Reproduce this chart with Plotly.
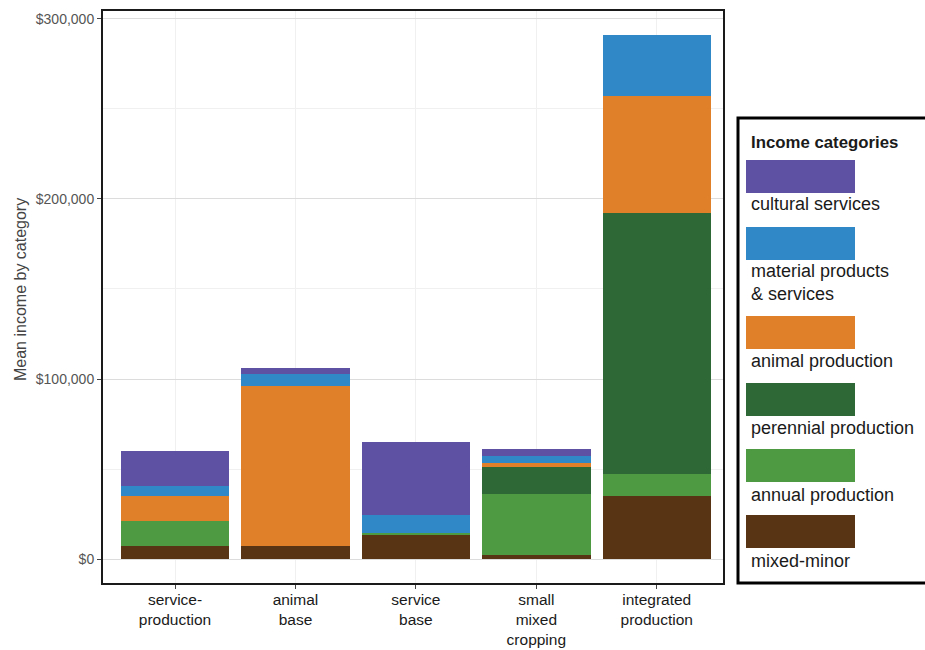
import plotly.graph_objects as go

groups = ["service-<br>production", "animal<br>base", "service<br>base",
          "small<br>mixed<br>cropping", "integrated<br>production"]

series_names = ["mixed-minor", "annual production", "perennial production",
                "animal production", "material products & services", "cultural services"]
mixed_minor = [7000, 7000, 13900, 2400, 34800]
annual = [13900, 0, 500, 33700, 12400]
perennial = [0, 0, 0, 15000, 145000]
animal = [14300, 89300, 0, 2200, 65200]
material = [5200, 6500, 9800, 4200, 33500]
cultural = [19800, 3300, 40900, 3900, 0]

y_ticks = [0, 100000, 200000, 300000]
y_tick_labels = ["$0", "$100,000", "$200,000", "$300,000"]

colors = {
    "mixed-minor": "#583415",
    "annual production": "#4E9A43",
    "perennial production": "#2E6837",
    "animal production": "#E08129",
    "material products & services": "#3089C6",
    "cultural services": "#5E51A3",
}
values = [mixed_minor, annual, perennial, animal, material, cultural]

W, H = 925, 650
Lt, Rt, Tt, Bt = 103, 723, 11, 583  # plot frame in pixels

fig = go.Figure()
xs = list(range(len(groups)))
for name, vals in zip(series_names, values):
    fig.add_trace(go.Bar(x=xs, y=vals, name=name, marker_color=colors[name],
                         marker_line_width=0, width=0.9, showlegend=False))

fig.update_layout(
    barmode="stack",
    width=W, height=H,
    margin=dict(l=Lt, r=W - Rt, t=Tt, b=H - Bt, pad=0, autoexpand=False),
    paper_bgcolor="white", plot_bgcolor="white",
    font=dict(family="Liberation Sans, Arial, sans-serif", color="#1a1a1a"),
)
fig.update_xaxes(
    range=[-0.598, 4.55], tickvals=xs, ticktext=groups, automargin=False,
    tickfont=dict(size=15.5, color="#1a1a1a"), ticklabelstandoff=-3,
    showline=True, linecolor="#1a1a1a", linewidth=2, mirror=True,
    showgrid=True, gridcolor="#f0f0f0", gridwidth=1,
    ticks="outside", ticklen=4, tickcolor="#444", zeroline=False,
)
fig.update_yaxes(
    range=[-13300, 304400], tickvals=y_ticks, ticktext=y_tick_labels, automargin=False,
    tickfont=dict(size=14, color="#555555"),
    showline=True, linecolor="#1a1a1a", linewidth=2, mirror=True,
    showgrid=True, gridcolor="#dcdcdc", gridwidth=1.2,
    minor=dict(tickvals=[50000, 150000, 250000], showgrid=True, gridcolor="#f0f0f0", gridwidth=1, ticks=""),
    ticks="outside", ticklen=4, tickcolor="#444", zeroline=False,
)

def px(x):
    return (x - Lt) / (Rt - Lt)

def py(y):
    return (Bt - y) / (Bt - Tt)

fig.add_annotation(text="Mean income by category", textangle=-90,
                   x=px(20), y=py(290), xref="paper", yref="paper",
                   showarrow=False, font=dict(size=16, color="#444444"),
                   xanchor="center", yanchor="middle")

# legend box
fig.add_shape(type="rect", xref="paper", yref="paper",
              x0=px(738), x1=px(940), y0=py(583), y1=py(118),
              line=dict(color="black", width=3), fillcolor="white", layer="above")
fig.add_annotation(text="<b>Income categories</b>", x=px(749), y=py(142), xref="paper", yref="paper",
                   showarrow=False, xanchor="left", yanchor="middle",
                   font=dict(size=16.8, color="#1a1a1a"))

legend_order = ["cultural services", "material products & services", "animal production",
                "perennial production", "annual production", "mixed-minor"]
legend_labels = {"material products & services": "material products<br>& services"}
key_tops = [160, 227, 316, 383, 449, 515]
label_centers = [204, 282, 361, 428, 495, 561]
for name, top, lc in zip(legend_order, key_tops, label_centers):
    fig.add_shape(type="rect", xref="paper", yref="paper",
                  x0=px(746), x1=px(855), y0=py(top + 33), y1=py(top),
                  line=dict(width=0), fillcolor=colors[name], layer="above")
    fig.add_annotation(text=legend_labels.get(name, name), x=px(749), y=py(lc),
                       xref="paper", yref="paper", showarrow=False,
                       xanchor="left", yanchor="middle", align="left",
                       font=dict(size=18, color="#1a1a1a"))

fig.write_html("out.html", config={"displayModeBar": False},
               post_script="document.body.style.margin='0';document.body.style.overflow='hidden';")
